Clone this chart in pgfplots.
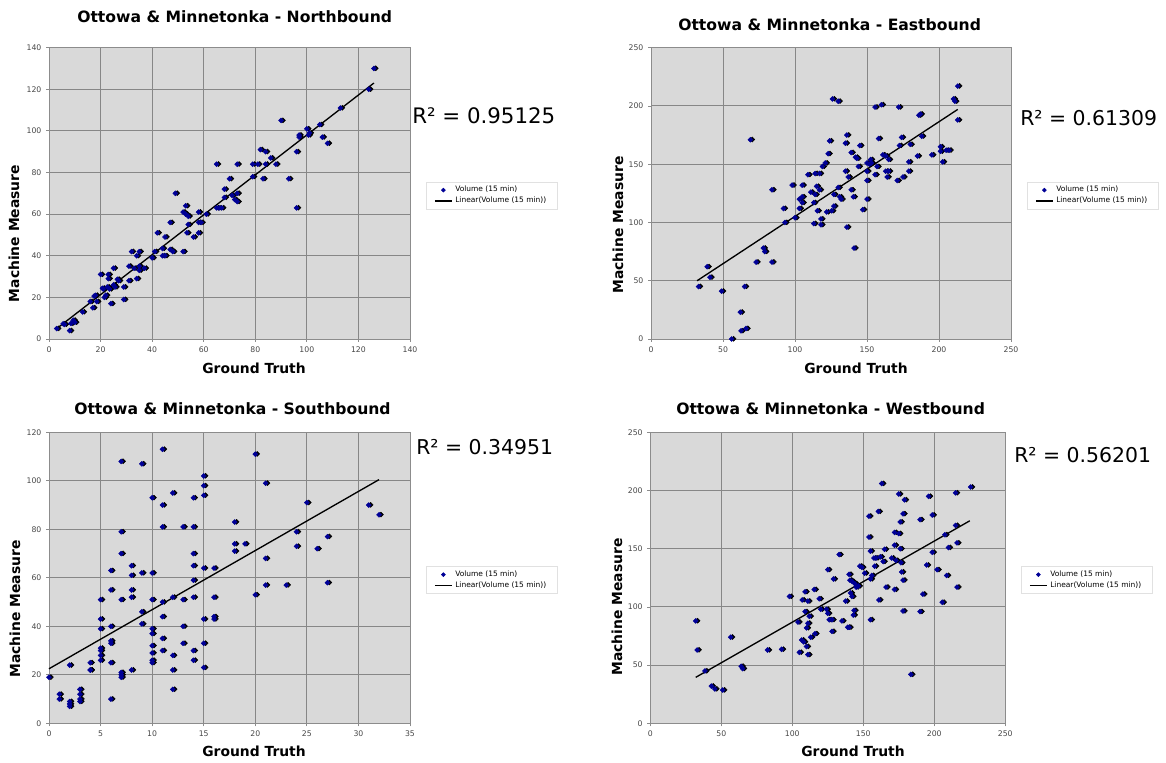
\documentclass[border=0pt]{standalone}
\usepackage{fontspec}
\setmainfont{DejaVu Sans}
\usepackage{pgfplots}
\usepackage{pgfplotstable}
\pgfplotsset{compat=1.18}
\definecolor{bg}{RGB}{217,217,217}
\definecolor{gridc}{RGB}{135,135,135}
\definecolor{axc}{RGB}{140,140,140}
\definecolor{tickc}{RGB}{70,70,70}
\definecolor{legc}{RGB}{225,225,225}
\definecolor{navyb}{RGB}{0,0,150}

\pgfplotstableread{
x y
3 5
6 7
5.5 7.3
8 4
8.5 7.5
9.4 9
10 8
13 13
16 18
17 15
17.5 20.6
18 21
18.5 18
20 31
20.7 24.4
21 24
21.5 20
22 21
22.6 25
23 31
23 29
23.5 24
24 17
25 34
25 26
25.6 25
26.5 28.7
27 28
29 19
29 25
31 28
31 35
32 42
33 34
34 40
34 29
35 42
35 35
35 33
37 34
40 39
41 42
42 51
44 43.5
44 40
45 40
45 49
47 56
47 43
48 42
49 70
52 61
52 42
53 64
53 60
53.5 51
54 59
54 55
56 49
58 61
58 51
58 56
59 56
61 60
65 84
65 63
66 63
67 63
68 72
68 68
70 77
71 69
72 67
73 66
73 70
73 84
79 84
79 78
81 84
82 91
83 77
84 84
84 90
86 87
88 84
90 105
93 77
96 90
96 63
97 98
97 97
100 101
100.6 98
101 99
105 103
106 97
108 94
113 111
124 120
126 130
}\nbdata

\pgfplotstableread{
x y
33 45
39 62
41 53
49 41
56 0
62 23
62.5 7
65 45
66 9
69 171
73 66
78 78
79 75
84 128
84 66
92 112
93 100
98 132
100 104
103 120
103 112
105 117
105 122
105 132
109 141
111 126
113 99
113 117
114 124
114 142
115 131
115.5 110
117 128
117 142
118 103
118 98
119 148
121 151
122 109
123 159
124 170
125.5 110
126 206
127 124
127 114
130 204
130 130
131 122
132 120
135 144
135 168
136 175
136 96
137 139
139 128
139 160
140.5 122
141 78
142 156
143 155
144 148
145 166
147 111
150 151
150 144
150 136
150 120
151.6 150
152.5 154
153 151
155.6 199
155.6 141
157 148
158 172
160 201
161 158
163 157
163 144
164 139
165 154
165 144
171 136
172 199
172.5 166
174 173
175 139
179 144
180 167
179 152
185 157
186 192
187 193
188 174
195 158
201 161
201 165
202.5 152
205 162
207 162
210 206
211 204
213 217
213 188
}\ebdata

\pgfplotstableread{
x y
0 19
1 12
1 10
2 24
2 9
2 8
2 7
3 14
3 12
3 10
3 9
4 25
4 22
4 22
5 51
5 43
5 39
5 31
5 30
5 28
5 26
6 63
6 55
6 40
6 34
6 33
6 25
6 10
7 108
7 79
7 70
7 51
7 21
7 20
7 19
8 65
8 61
8 55
8 52
8 22
9 107
9 62
9 46
9 41
10 93
10 62
10 51
10 39
10 37
10 32
10 29
10 26
10 25
11 113
11 90
11 81
11 50
11 44
11 35
11 30
12 95
12 52
12 28
12 22
12 14
13 81
13 51
13 40
13 33
14 93
14 81
14 70
14 65
14 59
14 52
14 30
14 26
15 102
15 98
15 94
15 64
15 43
15 33
15 23
16 64
16 52
16 44
16 43
18 83
18 74
18 71
19 74
20 111
20 53
21 99
21 68
21 57
23 57
24 79
24 73
25 91
26 72
27 77
27 58
31 90
32 86
}\sbdata

\pgfplotstableread{
x y
32 88
33 63
38.5 45
43 32
45.5 29.5
51 28.6
56.6 74
64 49
65 47
82.6 63
92.5 63.6
98 109
104 87
105 61
106.6 71.6
107 106
108 70
109 113
109 96
110 66
110 82
111 59
111 105
111 86
112 92
113 74
115.5 115
116 77
119 107
120 98
124 98
125 132
125 94.5
126 89
128 89
128 79
129 124
133 145
135 88
137.6 105
139 82.5
140 82.5
140 128
140.6 123
141 112
142 109
142 122
143 93
143.5 97
144 120
145 117
146.5 118
147.6 135
149 134
151 129
154 160
154 178
155 124
155 89
155 148
156 127
157.5 142
158 135
159 142
160.6 182
161 106
162 143
163 206
164 139
165 149.5
166 117
170 142
172 164
172 115
172 153
173 140
175 197
175 163
176 173
176 150
176.5 138
177 130
178 180
178 123
178 96.5
179 192
183.5 42
190 175
190 96
192 111
194.6 136
196 195
198.6 147
198.6 179
202 132
205.6 104
207.5 162
208.7 127
210 151
215 198
215 170
216 155
216 117
225.6 203
}\wbdata

\pgfplotsset{
  excel/.style={
    scale only axis,
    clip=false,
    axis background/.style={fill=bg},
    grid=major,
    grid style={gridc, line width=0.7pt},
    axis line style={axc, line width=0.7pt},
    tick style={axc, line width=0.6pt},
    tick align=outside,
    major tick length=2.2pt,
    tick pos=left,
    ticklabel style={font=\fontsize{5.8}{6}\selectfont, text=tickc},
    /pgf/number format/assume math mode=true,
    legend style={
      at={(1.044,0.539)}, anchor=north west,
      font=\fontsize{5.6}{6.6}\selectfont,
      draw=legc, fill=white, line width=0.5pt,
      inner xsep=6pt, inner ysep=1pt,
      row sep=-1.5pt,
      cells={anchor=west},
    },
  },
  shadow/.style={only marks, mark=square*, mark size=1.3pt, black,
    mark options={rotate=45, xshift=1.1pt, yshift=-0.9pt}, forget plot},
  pts/.style={only marks, mark=square*, mark size=1.3pt, navyb,
    mark options={rotate=45},
    legend image code/.code={\draw[mark repeat=2,mark phase=2,##1, mark size=1pt] plot coordinates {(0cm,0cm) (0.225cm,0cm) (0.45cm,0cm)};}},
  trend/.style={black, line width=1pt, no marks,
    legend image code/.code={\draw[##1] (0cm,0cm) -- (0.45cm,0cm);}},
}

\begin{document}
\begin{tikzpicture}
\useasboundingbox (0,0) rectangle (874.5pt,572.25pt);

% Northbound
\begin{axis}[excel, at={(36.75pt,318pt)}, anchor=south west,
  width=270.75pt, height=218.5pt,
  xmin=0, xmax=140, ymin=0, ymax=140,
  xtick={0,20,...,140}, ytick={0,20,...,140}]
\addplot[shadow] table {\nbdata};
\addplot[pts] table {\nbdata};
\addlegendentry{Volume (15 min)}
\addplot[trend] coordinates {(3,5) (126,123)};
\addlegendentry{Linear(Volume (15 min))}
\end{axis}

% Eastbound
\begin{axis}[excel, at={(488.25pt,318pt)}, anchor=south west,
  width=270pt, height=218.5pt,
  xmin=0, xmax=250, ymin=0, ymax=250,
  xtick={0,50,...,250}, ytick={0,50,...,250}]
\addplot[shadow] table {\ebdata};
\addplot[pts] table {\ebdata};
\addlegendentry{Volume (15 min)}
\addplot[trend] coordinates {(32,50) (213,197)};
\addlegendentry{Linear(Volume (15 min))}
\end{axis}

% Southbound
\begin{axis}[excel, at={(36.75pt,29.75pt)}, anchor=south west,
  width=270.75pt, height=218.25pt,
  xmin=0, xmax=35, ymin=0, ymax=120,
  xtick={0,5,...,35}, ytick={0,20,...,120}]
\addplot[shadow] table {\sbdata};
\addplot[pts] table {\sbdata};
\addlegendentry{Volume (15 min)}
\addplot[trend] coordinates {(0,22.5) (32,100.5)};
\addlegendentry{Linear(Volume (15 min))}
\end{axis}

% Westbound
\begin{axis}[excel, at={(487.7pt,29.75pt)}, anchor=south west,
  width=266.25pt, height=218.25pt,
  xmin=0, xmax=250, ymin=0, ymax=250,
  xtick={0,50,...,250}, ytick={0,50,...,250}]
\addplot[shadow] table {\wbdata};
\addplot[pts] table {\wbdata};
\addlegendentry{Volume (15 min)}
\addplot[trend] coordinates {(32,39.5) (225,174)};
\addlegendentry{Linear(Volume (15 min))}
\end{axis}

% titles
\tikzset{ttl/.style={font=\fontsize{11.7}{13}\selectfont\bfseries, anchor=west, inner sep=0pt},
         lab/.style={font=\fontsize{10.4}{12}\selectfont\bfseries, inner sep=0pt},
         rsq/.style={font=\fontsize{15.3}{18}\selectfont, anchor=west, inner sep=0pt}}
\node[ttl] at (57.75pt,559.9pt) {Ottowa \& Minnetonka - Northbound};
\node[ttl] at (508.5pt,553.5pt) {Ottowa \& Minnetonka - Eastbound};
\node[ttl] at (55.5pt,265.5pt) {Ottowa \& Minnetonka - Southbound};
\node[ttl] at (507pt,265.5pt) {Ottowa \& Minnetonka - Westbound};

\node[lab, rotate=90] at (10.5pt,397.1pt) {Machine Measure};
\node[lab, rotate=90] at (463.5pt,403.5pt) {Machine Measure};
\node[lab, rotate=90] at (11.25pt,115.5pt) {Machine Measure};
\node[lab, rotate=90] at (462.75pt,117pt) {Machine Measure};

\node[lab] at (190.5pt,296.25pt) {Ground Truth};
\node[lab] at (642pt,296.25pt) {Ground Truth};
\node[lab] at (190.5pt,9pt) {Ground Truth};
\node[lab] at (639.75pt,9pt) {Ground Truth};

\node[rsq, font=\fontsize{16}{18}\selectfont] at (309pt,485.25pt) {R² = 0.95125};
\node[rsq] at (765pt,483.75pt) {R² = 0.61309};
\node[rsq] at (312pt,237pt) {R² = 0.34951};
\node[rsq] at (760.5pt,231pt) {R² = 0.56201};
\end{tikzpicture}
\end{document}
